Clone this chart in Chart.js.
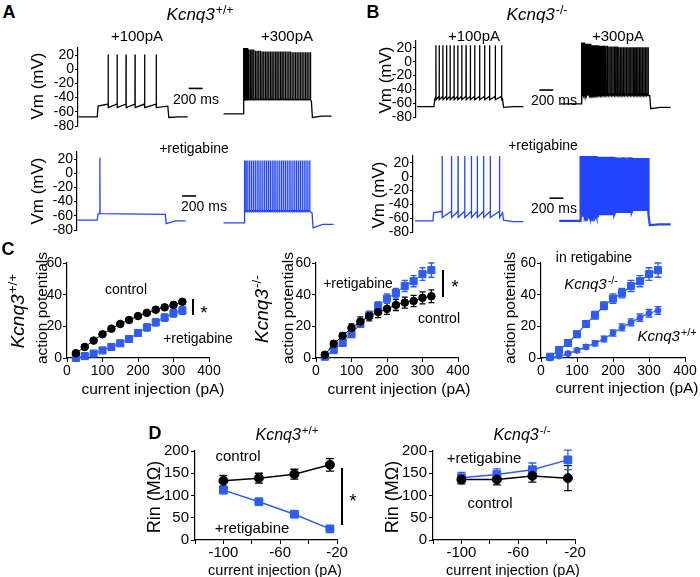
<!DOCTYPE html>
<html><head><meta charset="utf-8">
<script src="https://cdn.jsdelivr.net/npm/chart.js@4.4.1/dist/chart.umd.min.js"></script>
<style>
html,body{margin:0;padding:0;background:#fff}
body{width:700px;height:577px;position:relative;overflow:hidden;font-family:'Liberation Sans',Arial,Helvetica,sans-serif;color:#000}
.t{position:absolute;white-space:nowrap;line-height:1}
.sup{position:relative;top:-0.5em;font-size:0.72em;margin-left:1px;font-style:normal}
.bar{position:absolute;background:#000}
canvas{position:absolute}
</style></head><body>
<script>
// ================= DATA =================
// Panel C: number of action potentials vs injected current (pA)
const currents   = [25,50,75,100,125,150,175,200,225,250,275,300,325];
const wtCtlAP    = [3,7,11,15,18.5,21.5,24,26.5,28.5,30.5,32,33.5,35.5];
const wtCtlAPErr = [0.8,1,1,1.2,1.2,1.3,1.3,1.4,1.4,1.5,1.5,1.6,1.6];
const wtRetAP    = [0,1.2,2.8,4.8,7,9.3,12,15.8,19.3,22.5,25.5,28.3,30];
const wtRetAPErr = [0.6,0.8,1,1.2,1.4,1.6,1.8,2,2.2,2.2,2.3,2.4,2.5];
const koCtlAP    = [2,9,14,19,23,26.5,29,31,33.5,35,36,38,39];
const koCtlAPErr = [1,1.5,2,2.5,3,3,3.5,3.5,3.5,3.5,3.5,3.8,4];
const koRetAP    = [0.8,5,9.5,15,21.5,27,33,37.5,41,45.5,48.5,53,55.5];
const koRetAPErr = [0.8,1.2,1.6,2,2,2.5,2.5,3,3,3.5,3.5,4,4.5];
const apAxisX  = [0, 400];
const apTicksX = [0, 100, 200, 300, 400];
const apAxisY  = [0, 60];
const apTicksY = [0, 20, 40, 60];

// Panel D: input resistance (MOhm) vs injected current (pA)
const rinCurrents = [-100,-75,-50,-25];
const wtCtlRin    = [133,139,148,169];
const wtCtlRinErr = [12,11,11,14];
const wtRetRin    = [112,86,58,25];
const wtRetRinErr = [4,3,3,2];
const koCtlRin    = [136,136,144,139];
const koCtlRinErr = [10,12,14,28];
const koRetRin    = [140,147,158,180];
const koRetRinErr = [12,13,15,22];
const rinAxisX  = [-120, -20];
const rinTicksX = [-120, -100, -80, -60, -40, -20];
const rinTickLabels = [-100, -60, -20];
const rinAxisY  = [0, 200];
const rinTicksY = [0, 50, 100, 150, 200];

// Panels A/B: membrane potential traces (time in ms, Vm in mV)
const vmAxis  = [-80, 30];
const vmTicks = [-80, -60, -40, -20, 0, 20];
// [start, step on, step off, end]; levels [rest, plateau, threshold, post dip, post rest]
const aCtl100Time = [5, 276, 1290, 1576];
const aCtl100Lev  = [-67, -52, -49, -68, -67];
const aCtl100Pk   = [21];
const aCtl100Tr   = [-54];
const aCtl100Sp   = [433, 562, 690, 819, 957, 1124];

const aCtl300Time = [2090, 2372, 3352, 3643];
const aCtl300Lev  = [-63, -45, -42, -68, -66];
const aCtl300Pk   = [31, 28, 26, 25, 25, 25, 25, 24, 24, 24];
const aCtl300Tr   = [-43];
const aCtl300Sp   = [2378,2388,2401,2417,2436,2456,2478,2500,2523,2547,2571,2595,2619,2643,2667,2691,2715,2739,2763,2787,2811,2835,2859,2883,2907,2931,2955,2979,3003,3027,3051,3075,3099,3123,3147,3171,3195,3219,3243,3267,3291,3315,3339];

const aRet100Time = [5, 290, 1267, 1561];
const aRet100Lev  = [-66, -58, -56, -71, -67];
const aRet100Pk   = [22];
const aRet100Tr   = [-57];
const aRet100Sp   = [329];

const aRet300Time = [2105, 2400, 3376, 3686];
const aRet300Lev  = [-70, -56, -52, -77, -72];
const aRet300Pk   = [18];
const aRet300Tr   = [-54];
const aRet300Sp   = [2405,2428,2453,2479,2506,2533,2560,2587,2614,2641,2668,2695,2722,2749,2776,2803,2830,2857,2884,2911,2938,2965,2992,3019,3046,3073,3100,3127,3154,3181,3208,3235,3262,3289,3316,3343];

const bCtl100Time = [14, 257, 1243, 1543];
const bCtl100Lev  = [-65, -54, -50, -66, -65];
const bCtl100Pk   = [24];
const bCtl100Tr   = [-55];
const bCtl100Sp   = [286,333,386,439,490,547,600,657,719,781,843,914,986,1057,1139,1230];

const bCtl300Time = [2071, 2371, 3357, 3657];
const bCtl300Lev  = [-61, -49, -46, -68, -66];
const bCtl300Pk   = [28, 26, 24, 23, 22, 21, 21, 21];
const bCtl300Tr   = [-49];
const bCtl300Sp   = [2376,2383,2391,2399,2408,2417,2427,2437,2448,2459,2471,2483,2496,2509,2523,2537,2552,2567,2583,2599,2616,2633,2651,2669,2688,2707,2727,2747,2768,2789,2810,2831,2852,2873,2894,2915,2936,2957,2978,2999,3020,3041,3062,3083,3104,3125,3146,3167,3188,3209,3230,3251,3272,3293,3314,3335];

const bRet100Time = [29, 286, 1286, 1586];
const bRet100Lev  = [-64, -52, -50, -63, -65];
const bRet100Pk   = [33];
const bRet100Tr   = [-59];
const bRet100Sp   = [419, 553, 647, 743, 839, 924, 1014, 1110, 1243];

const bRet300Time = [2100, 2400, 3386, 3700];
const bRet300Lev  = [-64, -56, -54, -70, -69];
const bRet300Pk   = [30, 29, 28, 27];
const bRet300Tr   = [-57, -54, -51, -48];
const bRet300Sp   = [2405,2417,2430,2442,2455,2467,2480,2492,2505,2517,2530,2542,2555,2567,2580,2592,2605,2617,2630,2642,2655,2667,2680,2692,2705,2717,2730,2742,2755,2767,2780,2792,2805,2817,2830,2842,2855,2867,2880,2892,2905,2917,2930,2942,2955,2967,2980,2992,3005,3017,3030,3042,3055,3067,3080,3092,3105,3117,3130,3142,3155,3167,3180,3192,3205,3217,3230,3242,3255,3267,3280,3292,3305,3317,3330,3342,3355,3367,3380];

// 200 ms scale bars: [t start, t end, Vm]
const barA1 = [1590, 1790, -27];
const barA2 = [1510, 1710, -32];
const barB1 = [1770, 1970, -41];
const barB2 = [1960, 2160, -31];
const traceXMax = 3720;

// ================= HELPERS =================
Chart.defaults.font.family = "'Liberation Sans', Arial, Helvetica, sans-serif";
Chart.defaults.color = '#000';
const PAD = 20;
const BLUE = '#2f5cf0';
const TBLUE = '#2244ff';

function place(area, yW, xH) {
  const [L, T, R, B] = area;
  const c = document.createElement('canvas');
  const w = Math.round(R - L + yW + 2 * PAD), h = Math.round(B - T + xH + 2 * PAD);
  c.width = w; c.height = h;
  c.style.left = (L - yW - PAD) + 'px'; c.style.top = (T - PAD) + 'px';
  c.style.width = w + 'px'; c.style.height = h + 'px';
  document.body.appendChild(c);
  return c;
}

function axis(rng, tickVals, o) {
  return {
    type: 'linear', min: rng[0], max: rng[1],
    afterFit: s => { if (o.isY) s.width = o.size; else s.height = o.size; },
    afterBuildTicks: s => { s.ticks = tickVals.map(v => ({ value: v })); },
    ticks: { autoSkip: false, maxRotation: 0, padding: o.pad, font: { size: o.font }, color: '#000',
             callback: o.label || (v => String(v)) },
    grid: { drawOnChartArea: false, drawTicks: true, tickLength: o.tl, color: '#000', lineWidth: 1 },
    border: { display: true, color: '#000', width: 1.2 }
  };
}

const errorBars = {
  id: 'errorBars',
  beforeDatasetsDraw(chart) {
    const ctx = chart.ctx, ys = chart.scales.y;
    chart.data.datasets.forEach((ds, i) => {
      if (!ds.err) return;
      const meta = chart.getDatasetMeta(i);
      ctx.save();
      ctx.strokeStyle = ds.borderColor; ctx.lineWidth = 1.3;
      meta.data.forEach((el, j) => {
        const v = ds.data[j].y, e = ds.err[j];
        const y1 = ys.getPixelForValue(v + e), y2 = ys.getPixelForValue(v - e);
        const cw = ds.cap;
        ctx.beginPath();
        ctx.moveTo(el.x, y1); ctx.lineTo(el.x, y2);
        ctx.moveTo(el.x - cw, y1); ctx.lineTo(el.x + cw, y1);
        ctx.moveTo(el.x - cw, y2); ctx.lineTo(el.x + cw, y2);
        ctx.stroke();
      });
      ctx.restore();
    });
  }
};

function make(area, yW, xH, scales, datasets) {
  const c = place(area, yW, xH);
  return new Chart(c, {
    type: 'line',
    data: { datasets },
    options: { responsive: false, animation: false, events: [], layout: { padding: PAD },
      plugins: { legend: { display: false }, tooltip: { enabled: false } }, scales },
    plugins: [errorBars]
  });
}

const pts = (xs, ys) => xs.map((x, i) => ({ x, y: ys[i] }));

function series(xs, ys, err, color, style, r, lw, cap) {
  return { data: pts(xs, ys), err, cap, borderColor: color, backgroundColor: color, borderWidth: lw,
    pointStyle: style, pointRadius: r, pointBorderWidth: 1, pointBorderColor: color, pointBackgroundColor: color,
    tension: 0, clip: false };
}

function trace(t, lv, spikes, peaks, troughs) {
  const [t0, on, off, t1] = t;
  const [rest, plat, thr, post, postRest] = lv;
  const d = [{ x: t0, y: rest }, { x: on, y: rest }, { x: on + 12, y: plat }];
  const n = spikes.length;
  spikes.forEach((s, i) => {
    const pk = peaks[Math.floor(i * peaks.length / n)];
    const tr = troughs[Math.floor(i * troughs.length / n)];
    d.push({ x: s - 1, y: Math.max(thr, tr) }, { x: s, y: pk }, { x: s + 2, y: tr });
  });
  d.push({ x: off, y: plat }, { x: off + 15, y: post }, { x: off + 150, y: postRest }, { x: t1, y: postRest });
  return d;
}
const traceDs = (data, color, w) => ({ data, borderColor: color, borderWidth: w || 1.3, pointRadius: 0, tension: 0 });
const barDs = b => ({ data: [{ x: b[0], y: b[2] }, { x: b[1], y: b[2] }], borderColor: '#000', borderWidth: 1.6, pointRadius: 0 });

function traceRow(area, ds) {
  return make(area, 40, 0, {
    x: { type: 'linear', min: 0, max: traceXMax, display: false },
    y: axis(vmAxis, vmTicks, { isY: true, size: 40, font: 14, pad: 1, tl: 3 })
  }, ds);
}

// ================= TRACE ROWS =================
traceRow([78, 48, 337, 126], [
  traceDs(trace(aCtl100Time, aCtl100Lev, aCtl100Sp, aCtl100Pk, aCtl100Tr), '#000'),
  traceDs(trace(aCtl300Time, aCtl300Lev, aCtl300Sp, aCtl300Pk, aCtl300Tr), '#000'),
  barDs(barA1)]);
traceRow([77, 152, 336, 230], [
  traceDs(trace(aRet100Time, aRet100Lev, aRet100Sp, aRet100Pk, aRet100Tr), TBLUE),
  traceDs(trace(aRet300Time, aRet300Lev, aRet300Sp, aRet300Pk, aRet300Tr), TBLUE),
  barDs(barA2)]);
traceRow([416, 41, 675, 117], [
  traceDs(trace(bCtl100Time, bCtl100Lev, bCtl100Sp, bCtl100Pk, bCtl100Tr), '#000'),
  traceDs(trace(bCtl300Time, bCtl300Lev, bCtl300Sp, bCtl300Pk, bCtl300Tr), '#000'),
  barDs(barB1)]);
traceRow([413, 156, 672, 232], [
  traceDs(trace(bRet100Time, bRet100Lev, bRet100Sp, bRet100Pk, bRet100Tr), TBLUE),
  traceDs(trace(bRet300Time, bRet300Lev, bRet300Sp, bRet300Pk, bRet300Tr), TBLUE, 2.2),
  barDs(barB2)]);

// ================= PANEL C =================
function apChart(area, ds) {
  return make(area, 30, 22, {
    x: axis(apAxisX, apTicksX, { isY: false, size: 22, font: 14, pad: 1, tl: 4 }),
    y: axis(apAxisY, apTicksY, { isY: true, size: 30, font: 14, pad: 1, tl: 4 })
  }, ds);
}
apChart([67, 263, 209, 358], [
  series(currents, wtCtlAP, wtCtlAPErr, '#000', 'circle', 3.8, 1, 3),
  series(currents, wtRetAP, wtRetAPErr, BLUE, 'rect', 5, 1, 3)]);
apChart([316, 263, 458, 358], [
  series(currents, koCtlAP, koCtlAPErr, '#000', 'circle', 3.8, 1, 3),
  series(currents, koRetAP, koRetAPErr, BLUE, 'rect', 5, 1, 3)]);
apChart([541, 263, 685, 358], [
  series(currents, koRetAP, koRetAPErr, BLUE, 'rect', 5, 1.2, 3.5),
  series(currents, wtRetAP, wtRetAPErr, BLUE, 'circle', 3, 1.2, 3.5)]);

// ================= PANEL D =================
function rinChart(area, ds) {
  return make(area, 35, 20, {
    x: axis(rinAxisX, rinTicksX, { isY: false, size: 20, font: 15, pad: 0, tl: 4,
         label: v => (rinTickLabels.includes(v) ? String(v) : '') }),
    y: axis(rinAxisY, rinTicksY, { isY: true, size: 35, font: 15, pad: 2, tl: 4 })
  }, ds);
}
rinChart([195, 451, 337, 540], [
  series(rinCurrents, wtCtlRin, wtCtlRinErr, '#000', 'circle', 4.5, 1.5, 4),
  series(rinCurrents, wtRetRin, wtRetRinErr, BLUE, 'rect', 5.5, 1.5, 4)]);
rinChart([433, 451, 575, 540], [
  series(rinCurrents, koCtlRin, koCtlRinErr, '#000', 'circle', 4.5, 1.5, 4),
  series(rinCurrents, koRetRin, koRetRinErr, BLUE, 'rect', 5.5, 1.5, 4)]);

// ================= TEXT =================
function txt(html, x, y, size, o = {}) {
  const d = document.createElement('div');
  d.className = 't';
  d.innerHTML = html;
  d.style.left = x + 'px'; d.style.top = y + 'px'; d.style.fontSize = size + 'px';
  if (o.bold) d.style.fontWeight = 'bold';
  d.style.transform = 'translate(-50%,-50%)' + (o.rot ? ' rotate(-90deg)' : '');
  document.body.appendChild(d);
}
function vbar(x, y, h) {
  const d = document.createElement('div');
  d.className = 'bar';
  d.style.cssText = `left:${x}px;top:${y}px;width:1.5px;height:${h}px`;
  document.body.appendChild(d);
}
const wt = '<i>Kcnq3</i><span class="sup">+/+</span>';
const ko = '<i>Kcnq3</i><span class="sup">-/-</span>';

txt('A', 9, 12, 18, { bold: true });
txt('B', 373, 12, 18, { bold: true });
txt('C', 8, 249, 18, { bold: true });
txt('D', 155, 433, 18, { bold: true });

txt(wt, 200, 14, 17);
txt(ko, 537, 14, 17);
txt('+100pA', 137, 35, 15); txt('+300pA', 287, 35, 15);
txt('+100pA', 474, 35, 15); txt('+300pA', 618, 35, 15);
txt('+retigabine', 194, 148, 14); txt('+retigabine', 543, 145, 14);
txt('Vm (mV)', 37, 86, 17, { rot: true });
txt('Vm (mV)', 37, 191, 17, { rot: true });
txt('Vm (mV)', 385, 80, 17, { rot: true });
txt('Vm (mV)', 378, 195, 17, { rot: true });
txt('200 ms', 196, 99, 14); txt('200 ms', 204, 206, 14);
txt('200 ms', 554, 100, 14); txt('200 ms', 554, 208, 14);

txt(wt, 17, 311, 19, { rot: true });
txt(ko, 261, 309, 19, { rot: true });
txt('action potentials', 42, 308, 15.5, { rot: true });
txt('action potentials', 288, 308, 15.5, { rot: true });
txt('action potentials', 510, 308, 15.5, { rot: true });
txt('current injection (pA)', 153, 389, 15.5);
txt('current injection (pA)', 399, 389, 15.5);
txt('current injection (pA)', 627, 388, 15.5);
txt('control', 126, 289, 14); txt('+retigabine', 198, 338, 14);
vbar(192, 299, 16); txt('*', 204, 312, 19);
txt('+retigabine', 358, 283, 14); txt('control', 439, 318, 14);
vbar(442, 270, 27); txt('*', 455, 286, 19);
txt('in retigabine', 594, 257, 14);
txt(ko, 591, 283, 15);
txt(wt, 667, 335, 15);

txt(wt, 287, 435, 16);
txt(ko, 522, 435, 16);
txt('control', 238, 455, 15); txt('+retigabine', 252, 527, 15);
vbar(341, 468, 57); txt('*', 353, 500, 19);
txt('+retigabine', 484, 457, 15); txt('control', 490, 502, 15);
txt('Rin (MΩ)', 154, 497, 18, { rot: true });
txt('Rin (MΩ)', 392, 497, 18, { rot: true });
txt('current injection (pA)', 275, 570, 14.5);
txt('current injection (pA)', 513, 570, 14.5);
</script>
</body></html>
